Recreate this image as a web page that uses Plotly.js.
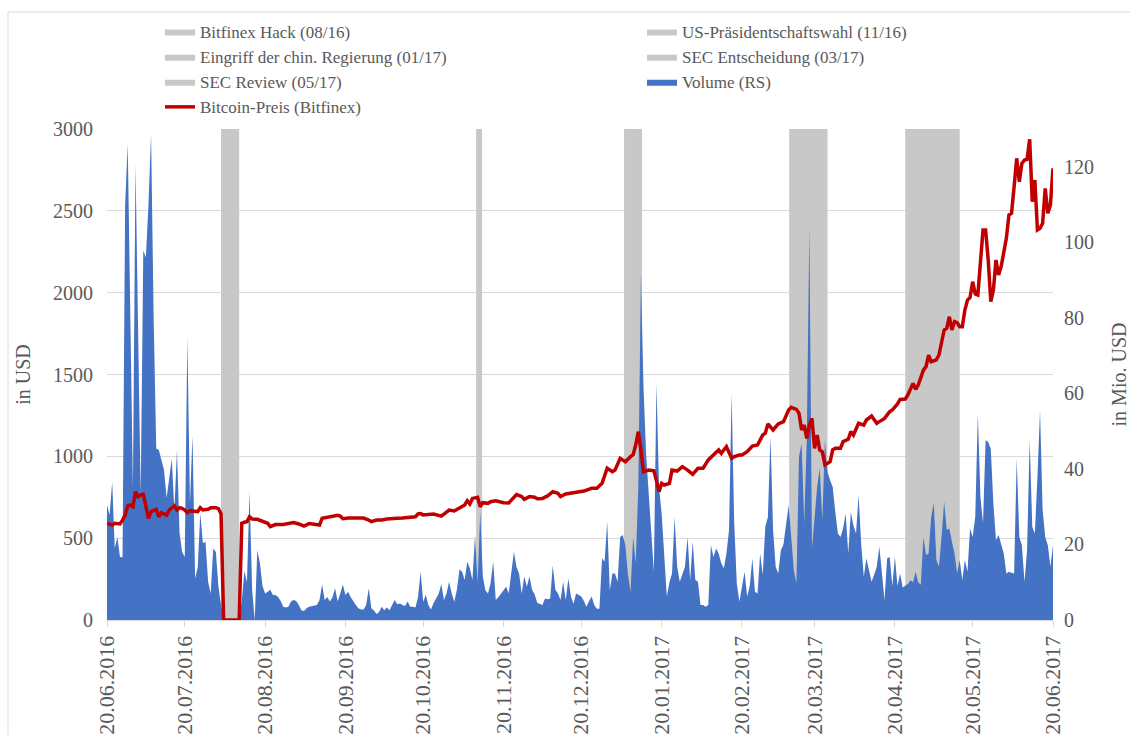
<!DOCTYPE html>
<html><head><meta charset="utf-8">
<script src="https://cdn.plot.ly/plotly-3.0.1.min.js"></script>
<style>html,body{margin:0;padding:0;background:#fff}#chart{width:1130px;height:735px}</style>
</head><body><div id="chart"></div>
<script>
// ---- data ----
const startDate = '2016-06-20';
const tickLabels = ['20.06.2016','20.07.2016','20.08.2016','20.09.2016','20.10.2016','20.11.2016','20.12.2016',
  '20.01.2017','20.02.2017','20.03.2017','20.04.2017','20.05.2017','20.06.2017'];

const eventNames = ['Bitfinex Hack (08/16)','US-Präsidentschaftswahl (11/16)','Eingriff der chin. Regierung (01/17)',
  'SEC Entscheidung (03/17)','SEC Review (05/17)'];
const eventStart = ['2016-08-03','2016-11-09 10:00','2017-01-05 12:00','2017-03-10 05:00','2017-04-24'];
const eventEnd   = ['2016-08-10','2016-11-11 17:00','2017-01-12 10:00','2017-03-25','2017-05-15'];

// Bitcoin price (USD), day offset from startDate
const priceDays = [0,2,3,5,6,7,8,9,10,11,12,13,14,15,16,17,19,20,21,23,24,26,27,28,29,30,31,32,34,35,36,37,39,40,42,43,44,45,51,
  52,53,54,55,56,58,60,62,63,65,68,70,72,74,76,78,80,82,83,85,87,89,90,91,93,95,97,99,101,102,104,106,108,110,112,114,116,119,
  120,121,122,123,126,129,132,134,136,138,139,140,141,143,144,145,147,148,150,153,155,157,158,160,161,163,165,166,168,170,172,
  174,175,177,180,182,184,187,189,191,193,195,196,198,199,200,202,203,204,205,206,207,209,211,212,213,214,215,217,218,220,222,
  224,226,228,230,232,234,236,237,239,241,242,244,245,247,249,251,253,254,255,257,259,261,263,264,266,267,268,269,270,271,272,
  273,274,275,276,277,279,280,281,283,284,286,287,288,290,292,293,295,297,298,300,302,303,305,306,308,309,311,312,313,315,316,
  317,318,320,321,322,323,324,325,326,327,328,329,330,331,332,333,334,335,336,337,338,339,340,341,342,343,344,345,346,347,348,
  349,350,351,352,353,354,355,356,357,358,359,360,361,362,363,364,365];
const priceValues = [591,580,591,587,610,641,697,703,692,784,753,764,768,682,621,662,676,631,656,641,672,698,672,686,682,672,656,668,662,662,686,672,676,686,686,680,650,0,0,
  591,597,601,631,617,615,601,591,570,583,583,591,595,587,574,589,587,580,621,627,635,640,635,619,623,623,619,623,611,601,611,611,617,617,621,623,627,631,
  648,650,642,643,648,635,672,666,682,703,729,709,743,750,692,717,713,723,729,717,715,754,766,754,737,754,750,741,743,758,784,
  774,754,770,778,784,788,805,805,835,927,906,916,988,978,967,998,1010,1069,1151,1039,906,916,912,850,784,835,825,835,916,910,937,
  916,890,927,927,978,1008,1039,1018,1059,988,998,1008,1008,1028,1063,1069,1130,1141,1198,1161,1198,1212,1283,1299,1287,1263,1161,1191,1110,1191,1232,
  1049,1130,1039,1028,947,967,1039,1049,1049,1090,1104,1151,1130,1202,1191,1222,1246,1202,1212,1232,1273,1283,1320,1348,1350,1375,1446,1409,1436,1527,1548,
  1619,1578,1589,1619,1700,1772,1782,1853,1772,1823,1817,1792,1792,1894,1955,1971,2067,1992,1986,2220,2383,2383,2200,1945,2016,2200,2108,2159,2240,2332,2474,
  2485,2648,2821,2678,2790,2811,2815,2937,2556,2688,2383,2393,2424,2637,2485,2536,2760];

// Daily trading volume (Mio. USD), one value per day starting at startDate
const volumeValues = [
  30.4,27.8,36.6,19,22,16.7,16.6,110,126,80,
  35,120.7,75,33,97.8,96,110,128.7,80,45.4,
  45,42,39.7,32.3,38,42.7,29,45,22.9,18,
  16.7,74.9,31,48.9,11,13.9,28.2,20.3,20.7,10.2,
  7,18.9,18,8.8,4,0,0,0,0,0,
  0,0,5,13,10,34,8,0,18.5,15,
  9,7,7.5,8,6.6,6.6,6.1,5,3.5,3.3,
  3.5,4.9,5.3,5,4,2.6,2.4,3.1,3.5,3.7,
  3.8,4,5.3,9.4,5.3,6.1,4.9,6,8.4,4.9,
  7,9.4,6.6,7.5,6.1,4.9,4,3.1,2.8,2.8,
  4,8.4,3.1,2.5,1.6,2.1,3.5,2.6,3.3,2.6,
  4,5.3,4.2,4.4,4,3.7,4.9,3.5,3.5,3.3,
  6,12.8,4.8,6.6,4,2.8,4.5,5.7,7,9.5,
  5.3,7,10.1,7,4.8,8,13.4,12.8,10.6,15.4,
  13.7,10.6,22.5,9.7,28.6,11.5,7.9,7,9.7,15.4,
  5.3,6,7,8,8.8,7,12,18.1,14,12.3,
  7,11.5,8.8,11.5,8,6.8,4.6,4.3,4,5.7,
  5.5,5.7,14.4,8,7,5.3,10.1,5.3,11,6.2,
  4.3,7,6.5,6.2,5,3.5,5,6.2,4,3,
  3,16.3,15.5,26,7.9,12.3,12.3,10.1,22,22.5,
  19.8,12,7.5,22,15,35.2,91.6,61.7,44,34.4,
  25,12.8,62.6,35,28.2,18.5,6.2,10,12.3,27.3,
  14.1,10.1,12,14.1,22,10.6,20.7,10.6,10.1,4,
  4,3.5,4,19.8,16.7,18.9,17.6,15,13.7,17.6,
  23.8,59.9,25.6,9.7,4.8,9,12.8,6.2,9,16.3,
  7.5,7,17.6,12,24.7,27.3,48.5,23.8,14.1,12.3,
  18.5,20,25.6,30.4,22,13.2,9.7,43.2,46.7,25.6,
  47.6,104,18.9,26.4,35.2,40.1,26.4,47.6,39.2,37,
  35.2,28.6,22.9,22,24.2,28.2,17.6,28.6,25,22.9,
  33,20,11.5,16.3,13.2,10.1,12,14.1,19.4,11.5,
  5.3,16.3,16.7,9,16.7,9,12.3,8.6,9,9.5,
  10.5,10,12.8,10,9.3,22,17.2,17.6,27.3,31,
  15.9,14.1,22,31.3,23.8,24.2,20.7,17.6,12.3,15.9,
  10.6,15.9,12.8,24.2,22,27.3,54.6,32.6,25.6,47.6,
  47.1,45.3,30.8,21.1,22.5,20.3,17.6,12.3,12.8,12.5,
  12.3,42.7,22,19.8,10.1,18.5,47.6,24.7,22.9,37.9,
  55.5,29.1,22,19.8,14.1,19.8];

// ---- helpers ----
function addDays(iso, n) {
  const p = iso.split('-').map(Number);
  const d = new Date(Date.UTC(p[0], p[1]-1, p[2] + n));
  return d.toISOString().slice(0,10);
}
function fromLabel(s) { const p = s.split('.'); return p[2] + '-' + p[1] + '-' + p[0]; }

const VOL_MAX = 130, PRICE_MAX = 3000;
const FONT = 'Liberation Serif, "Times New Roman", serif';
const TXT = '#595959';
const GRID = '#d9d9d9';
const lastDate = fromLabel(tickLabels[tickLabels.length-1]);

const traces = [];
eventNames.forEach(function(name, i) {
  traces.push({
    type: 'scatter', mode: 'lines', name: name,
    x: [eventStart[i], eventEnd[i]], y: [VOL_MAX, VOL_MAX],
    fill: 'tozeroy', fillcolor: '#c8c8c8', line: {width: 0, color: '#c8c8c8'},
    xaxis: 'x', yaxis: 'y', legend: (i % 2 === 0) ? 'legend' : 'legend2', hoverinfo: 'skip'
  });
});
traces.push({
  type: 'scatter', mode: 'lines', name: 'Volume (RS)',
  x: volumeValues.map(function(v, i) { return addDays(startDate, i); }), y: volumeValues,
  fill: 'tozeroy', fillcolor: '#4472c4', line: {width: 0, color: '#4472c4'},
  xaxis: 'x', yaxis: 'y', legend: 'legend2'
});
traces.push({
  type: 'scatter', mode: 'lines', name: 'Bitcoin-Preis (Bitfinex)',
  x: priceDays.map(function(d) { return addDays(startDate, d); }), y: priceValues,
  line: {width: 3.5, color: '#c00000'},
  xaxis: 'x', yaxis: 'y2', legend: 'legend'
});

const L = 107, R = 77, T = 129, B = 115, W = 1130, H = 735;
const pw = W - L - R, ph = H - T - B;
const px2x = function(px) { return (px - L) / pw; };
const px2y = function(py) { return (H - B - py) / ph; };

const layout = {
  width: W, height: H,
  margin: {l: L, r: R, t: T, b: B, pad: 0},
  paper_bgcolor: '#ffffff', plot_bgcolor: '#ffffff',
  font: {family: FONT, color: TXT, size: 20},
  showlegend: true,
  legend: {x: px2x(160), y: px2y(14), xanchor: 'left', yanchor: 'top', orientation: 'v',
    font: {family: FONT, size: 17, color: TXT}, bgcolor: 'rgba(0,0,0,0)', traceorder: 'normal'},
  legend2: {x: px2x(642), y: px2y(14), xanchor: 'left', yanchor: 'top', orientation: 'v',
    font: {family: FONT, size: 17, color: TXT}, bgcolor: 'rgba(0,0,0,0)', traceorder: 'normal'},
  xaxis: {
    type: 'date', range: [startDate, lastDate],
    tickvals: tickLabels.map(fromLabel), ticktext: tickLabels, tickangle: -90,
    tickfont: {family: FONT, size: 22, color: TXT},
    ticks: 'outside', ticklen: 6, tickcolor: GRID, tickwidth: 1,
    showline: true, linecolor: GRID, linewidth: 1, showgrid: false, zeroline: false
  },
  yaxis: {
    side: 'right', range: [0, VOL_MAX], dtick: 20, tick0: 0,
    showgrid: false, zeroline: false, showline: false, ticks: '',
    tickfont: {family: FONT, size: 20, color: TXT}, ticklabelstandoff: 10,
    title: {text: 'in Mio. USD', font: {family: FONT, size: 20, color: TXT}, standoff: 26}
  },
  yaxis2: {
    side: 'left', overlaying: 'y', anchor: 'x', range: [0, PRICE_MAX], dtick: 500, tick0: 0,
    showgrid: true, gridcolor: GRID, gridwidth: 1, zeroline: false, showline: false, ticks: '',
    tickfont: {family: FONT, size: 20, color: TXT}, ticklabelstandoff: 13,
    title: {text: 'in USD', font: {family: FONT, size: 20, color: TXT}, standoff: 17}
  },
  shapes: [
    {type: 'line', xref: 'paper', yref: 'paper', x0: px2x(8), x1: px2x(1135), y0: px2y(12), y1: px2y(12), line: {color: GRID, width: 1}},
    {type: 'line', xref: 'paper', yref: 'paper', x0: px2x(8), x1: px2x(8), y0: px2y(12), y1: px2y(740), line: {color: GRID, width: 1}}
  ]
};

Plotly.newPlot('chart', traces, layout, {staticPlot: true, displayModeBar: false});
</script>
</body></html>
